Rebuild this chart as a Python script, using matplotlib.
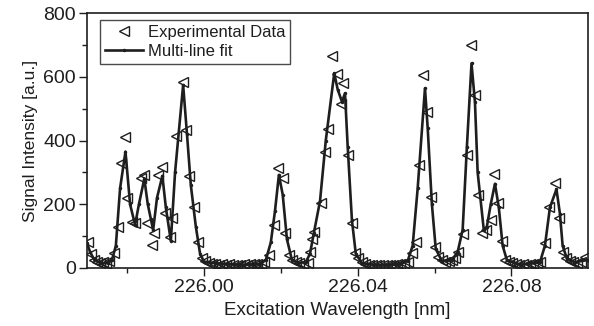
import numpy as np
import matplotlib
matplotlib.use('Agg')
import matplotlib.pyplot as plt
from matplotlib.ticker import MultipleLocator, FormatStrFormatter

plt.rcParams['font.family'] = ['Liberation Sans', 'DejaVu Sans']

# Measured data (wavelength in nm, intensity in a.u.)
exp_wavelength = [
    225.9699, 225.9706, 225.9714, 225.9722, 225.9730, 225.9737, 225.9745, 225.9753,
    225.9767, 225.9776, 225.9784, 225.9795, 225.9799, 225.9812, 225.9822, 225.9836,
    225.9845, 225.9851, 225.9864, 225.9871, 225.9880, 225.9890, 225.9900, 225.9912,
    225.9916, 225.9927, 225.9946, 225.9953, 225.9962, 225.9974, 225.9985, 225.9994,
    226.0003, 226.0012, 226.0021, 226.0030, 226.0039, 226.0048, 226.0057, 226.0066,
    226.0075, 226.0085, 226.0094, 226.0103, 226.0112, 226.0121, 226.0130, 226.0139,
    226.0148, 226.0157, 226.0169, 226.0183, 226.0192, 226.0206, 226.0212, 226.0221,
    226.0230, 226.0239, 226.0248, 226.0257, 226.0270, 226.0276, 226.0282, 226.0287,
    226.0304, 226.0315, 226.0323, 226.0334, 226.0345, 226.0356, 226.0361, 226.0375,
    226.0384, 226.0393, 226.0402, 226.0411, 226.0420, 226.0429, 226.0438, 226.0447,
    226.0456, 226.0465, 226.0475, 226.0484, 226.0493, 226.0502, 226.0511, 226.0520,
    226.0531, 226.0540, 226.0551, 226.0560, 226.0570, 226.0581, 226.0590, 226.0601,
    226.0609, 226.0619, 226.0628, 226.0637, 226.0646, 226.0654, 226.0661, 226.0674,
    226.0683, 226.0694, 226.0705, 226.0712, 226.0724, 226.0735, 226.0746, 226.0755,
    226.0765, 226.0776, 226.0784, 226.0793, 226.0802, 226.0811, 226.0820, 226.0829,
    226.0839, 226.0848, 226.0857, 226.0866, 226.0875, 226.0887, 226.0897, 226.0914,
    226.0923, 226.0934, 226.0943, 226.0952, 226.0961, 226.0970, 226.0980, 226.0991,
]
exp_intensity = [
    80, 45, 25, 18, 15, 20, 14, 22,
    46, 130, 328, 412, 219, 145, 141, 282,
    292, 142, 72, 109, 292, 318, 172, 98,
    156, 414, 585, 433, 289, 192, 83, 30,
    22, 15, 12, 14, 10, 12, 9, 11,
    8, 10, 9, 12, 10, 13, 11, 14,
    13, 18, 41, 135, 315, 281, 111, 41,
    25, 18, 15, 14, 17, 51, 90, 114,
    203, 365, 435, 665, 609, 515, 579, 354,
    140, 46, 30, 18, 12, 10, 9, 8,
    10, 9, 8, 10, 9, 12, 14, 15,
    20, 46, 83, 323, 605, 490, 224, 67,
    35, 25, 20, 22, 25, 30, 51, 107,
    354, 700, 543, 229, 109, 119, 151, 295,
    203, 86, 25, 20, 15, 12, 10, 12,
    9, 11, 13, 15, 20, 77, 192, 266,
    156, 51, 30, 22, 18, 15, 20, 35,
]

# Multi-line fit
fit_wavelength = [
    225.9696, 225.9704, 225.9714, 225.9730, 225.9750, 225.9761, 225.9771, 225.9782,
    225.9796, 225.9808, 225.9821, 225.9831, 225.9845, 225.9854, 225.9868, 225.9878,
    225.9892, 225.9901, 225.9914, 225.9925, 225.9946, 225.9956, 225.9966, 225.9979,
    225.9990, 226.0000, 226.0029, 226.0094, 226.0146, 226.0161, 226.0174, 226.0185,
    226.0195, 226.0205, 226.0216, 226.0229, 226.0244, 226.0265, 226.0276, 226.0286,
    226.0302, 226.0317, 226.0339, 226.0348, 226.0359, 226.0367, 226.0374, 226.0385,
    226.0395, 226.0411, 226.0458, 226.0510, 226.0530, 226.0543, 226.0556, 226.0575,
    226.0582, 226.0593, 226.0603, 226.0619, 226.0645, 226.0660, 226.0673, 226.0684,
    226.0696, 226.0705, 226.0712, 226.0728, 226.0736, 226.0746, 226.0757, 226.0767,
    226.0777, 226.0788, 226.0822, 226.0874, 226.0887, 226.0900, 226.0917, 226.0926,
    226.0933, 226.0944, 226.0965, 226.0998,
]
fit_intensity = [
    78, 50, 28, 16, 15, 25, 70, 250,
    365, 200, 135, 200, 280, 200, 119, 220,
    289, 190, 85, 300, 574, 420, 260, 130,
    45, 20, 15, 10, 12, 25, 80, 180,
    292, 230, 90, 25, 16, 18, 45, 110,
    210, 400, 611, 560, 522, 548, 380, 150,
    45, 15, 8, 12, 22, 70, 250, 564,
    440, 200, 60, 22, 25, 50, 120, 380,
    642, 520, 300, 119, 130, 200, 264, 190,
    70, 25, 10, 18, 70, 190, 247, 170,
    70, 30, 18, 25,
]

fig = plt.figure(figsize=(5.94, 3.26), dpi=100)
ax = fig.add_axes([0.1465, 0.178, 0.8434, 0.782])

ink = '#1e1e1e'
ax.plot(exp_wavelength, exp_intensity, linestyle='none', marker='<', markersize=7.5,
        markerfacecolor='none', markeredgecolor=ink, markeredgewidth=1.0,
        label='Experimental Data')
ax.plot(fit_wavelength, fit_intensity, color=ink, linewidth=1.9, marker='.',
        markersize=3, label='Multi-line fit')

ax.set_xlim(225.9696, 226.0999)
ax.set_ylim(0, 800)
ax.xaxis.set_major_locator(MultipleLocator(0.04))
ax.xaxis.set_minor_locator(MultipleLocator(0.02))
ax.xaxis.set_major_formatter(FormatStrFormatter('%.2f'))
ax.yaxis.set_major_locator(MultipleLocator(200))
ax.yaxis.set_minor_locator(MultipleLocator(100))

ax.tick_params(which='major', direction='out', length=6, width=1.0, labelsize=14,
               colors=ink, pad=2)
ax.tick_params(which='minor', direction='out', length=3.5, width=1.0, colors=ink)
for side in ['left', 'bottom', 'top', 'right']:
    ax.spines[side].set_linewidth(1.2)
    ax.spines[side].set_color(ink)

ax.set_xlabel('Excitation Wavelength [nm]', fontsize=13.5, color=ink, labelpad=4)
ax.set_ylabel('Signal Intensity [a.u.]', fontsize=12.5, color=ink, labelpad=4)

leg = ax.legend(loc='upper left', bbox_to_anchor=(0.025, 0.973), fontsize=12,
                frameon=True, fancybox=False, edgecolor=ink, borderpad=0.3,
                handlelength=2.3, handletextpad=0.3, labelspacing=0.25,
                borderaxespad=0.0)
leg.get_frame().set_linewidth(1.0)
for t in leg.get_texts():
    t.set_color(ink)

fig.savefig('out.png', dpi=100)
